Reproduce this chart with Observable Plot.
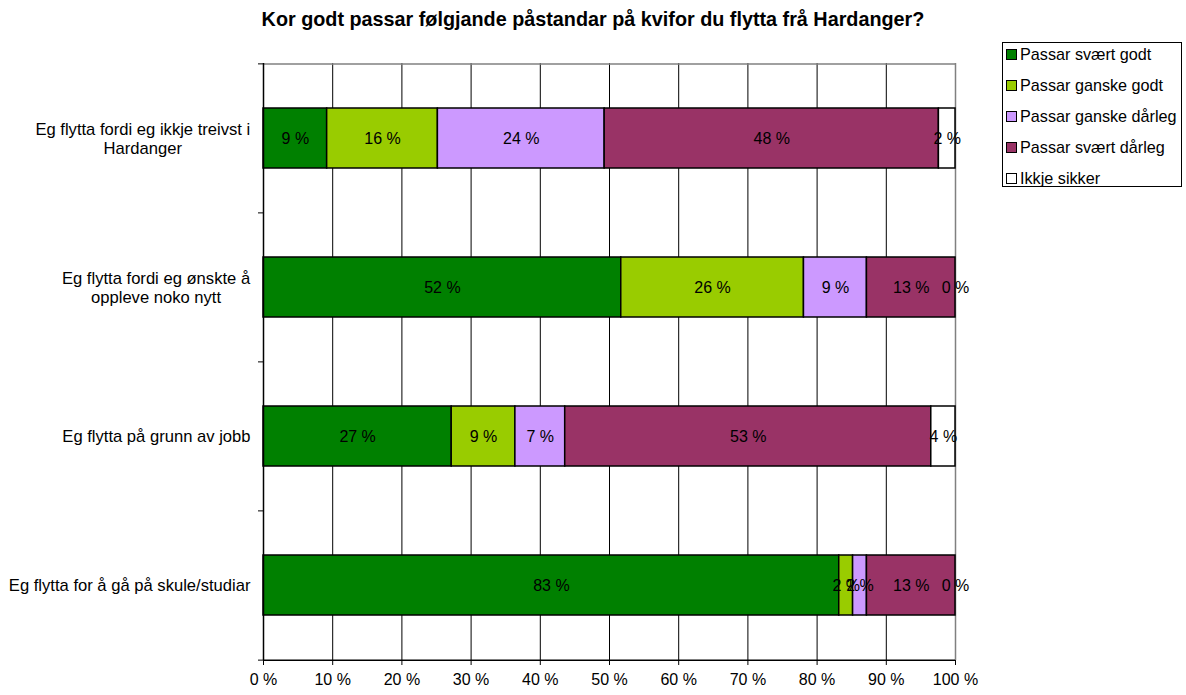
<!DOCTYPE html>
<html>
<head>
<meta charset="utf-8">
<script src="https://cdn.jsdelivr.net/npm/d3@7"></script>
<script src="https://cdn.jsdelivr.net/npm/@observablehq/plot@0.6"></script>
<style>
  html, body { margin: 0; padding: 0; background: #fff; }
  #wrap { position: relative; width: 1186px; height: 695px; font-family: "Liberation Sans", Arial, sans-serif; color: #000; }
  #title { height: 36px; line-height: 38px; text-align: center; font-weight: bold; font-size: 19.8px; white-space: nowrap; }
  #legend { position: absolute; left: 1002px; top: 42px; width: 180px; height: 145px; box-sizing: border-box; border: 1px solid #000; background: #fff; padding: 0 0 0 3px; }
  .item { display: flex; align-items: center; height: 22px; margin-bottom: 9px; font-size: 16.2px; white-space: nowrap; }
  .sw { width: 9px; height: 9px; border: 1px solid #000; margin-right: 3px; flex: none; }
</style>
</head>
<body>
<div id="wrap">
  <div id="title"></div>
  <div id="chart"></div>
  <div id="legend"></div>
</div>
<script>
const titleText = "Kor godt passar følgjande påstandar på kvifor du flytta frå Hardanger?";
const categories = [
  "Eg flytta fordi eg ikkje treivst i\nHardanger",
  "Eg flytta fordi eg ønskte å\noppleve noko nytt",
  "Eg flytta på grunn av jobb",
  "Eg flytta for å gå på skule/studiar"
];
const series = ["Passar svært godt", "Passar ganske godt", "Passar ganske dårleg", "Passar svært dårleg", "Ikkje sikker"];
const colors = ["#008000", "#99CC00", "#CC99FF", "#993366", "#FFFFFF"];
const sværtGodt    = [9.2, 51.7, 27.2, 83.2];
const ganskeGodt   = [16.0, 26.4, 9.2, 2.0];
const ganskeDårleg = [24.1, 9.1, 7.2, 2.0];
const sværtDårleg  = [48.3, 12.8, 52.9, 12.8];
const ikkjeSikker  = [2.4, 0, 3.5, 0];
const xTicks = [0, 10, 20, 30, 40, 50, 60, 70, 80, 90, 100];

const seriesValues = [sværtGodt, ganskeGodt, ganskeDårleg, sværtDårleg, ikkjeSikker];
const data = categories.flatMap((c, i) => series.map((s, j) => ({category: c, series: s, value: seriesValues[j][i]})));

document.getElementById("title").textContent = titleText;

const W = 1186, H = 659, mT = 27, mB = 35, mL = 263, mR = 231;
const step = (H - mT - mB) / categories.length;

const chart = Plot.plot({
  width: W, height: H,
  marginTop: mT, marginBottom: mB, marginLeft: mL, marginRight: mR,
  style: {fontFamily: "'Liberation Sans', Arial, sans-serif", fontSize: "16px", color: "#000", background: "#fff", overflow: "visible"},
  x: {domain: [0, 100], label: null},
  y: {domain: categories, paddingInner: 0.6, paddingOuter: 0.3, label: null},
  color: {domain: series, range: colors},
  marks: [
    Plot.ruleX(xTicks.slice(1, -1), {stroke: "#000", strokeWidth: 1}),
    Plot.ruleX([100], {stroke: "#808080", strokeWidth: 1.5}),
    Plot.tickY([categories[0]], {y: d => d, dy: -step / 2, stroke: "#808080", strokeWidth: 1.5}),
    Plot.barX(data, Plot.stackX({x: "value", y: "category", fill: "series", stroke: "#000", strokeWidth: 1.5})),
    Plot.text(data, Plot.stackX({x: "value", y: "category", text: d => Math.round(d.value) + " %", fill: "#000", fontSize: 16})),
    Plot.ruleX([0], {stroke: "#000", strokeWidth: 1.5}),
    Plot.tickY([categories[categories.length - 1]], {y: d => d, dy: step / 2, stroke: "#000", strokeWidth: 1.5}),
    Plot.axisX({ticks: xTicks, tickFormat: d => d + " %", tickSize: 5, tickPadding: 8, label: null, fontSize: 16}),
    Plot.axisY({tickSize: 0, tickPadding: 13, label: null, lineHeight: 1.12, fontSize: 16.6}),
    Plot.axisY({tickSize: 5, dy: -step / 2, tickFormat: () => "", label: null}),
    Plot.axisY({ticks: [categories[categories.length - 1]], tickSize: 5, dy: step / 2, tickFormat: () => "", label: null})
  ]
});
document.getElementById("chart").appendChild(chart);

// center multi-line y labels within their block (right-aligned overall)
chart.querySelectorAll('g[aria-label="y-axis tick label"] text').forEach(t => {
  if (t.querySelectorAll("tspan").length > 1) {
    const w = t.getBBox().width;
    t.setAttribute("text-anchor", "middle");
    const tr = t.getAttribute("transform") || "";
    t.setAttribute("transform", tr + ` translate(${-w / 2},0)`);
  }
});

const legend = document.getElementById("legend");
series.forEach((s, j) => {
  const row = document.createElement("div");
  row.className = "item";
  const sw = document.createElement("span");
  sw.className = "sw";
  sw.style.background = colors[j];
  const lab = document.createElement("span");
  lab.textContent = s;
  row.appendChild(sw);
  row.appendChild(lab);
  legend.appendChild(row);
});
</script>
</body>
</html>
